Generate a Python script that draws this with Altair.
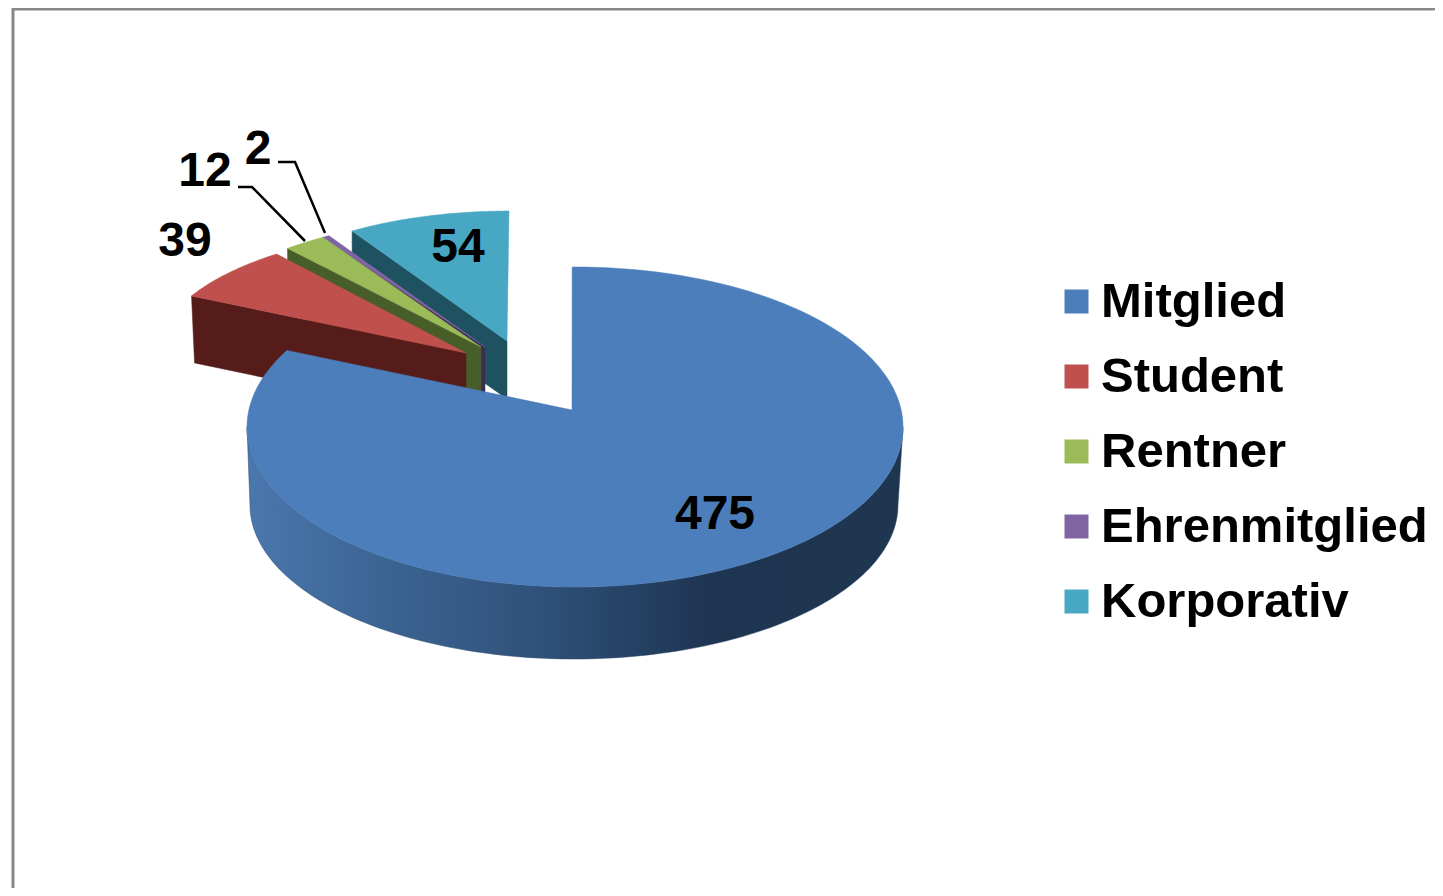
import numpy as np
import pandas as pd
import altair as alt

categories = ["Mitglied", "Student", "Rentner", "Ehrenmitglied", "Korporativ"]
values = [475, 39, 12, 2, 54]
top_colors = ["#4c7ebb", "#c0504d", "#9bbb59", "#8064a2", "#48a8c4"]
wall_colors = [None, "#551c19", "#485e29", "#3b2c55", "#1f5260"]

W, H = 1427, 880
FONT = "Liberation Sans"
xs = alt.Scale(domain=[8, 8 + W], range=[0, W])
ys = alt.Scale(domain=[8, 8 + H], range=[0, H])

total = sum(values)
ends = np.cumsum(values) / total * 360.0
starts = np.concatenate([[0.0], ends[:-1]])

# ellipse geometry of each exploded slice (perspective view of the pie)
geom = {
    "Mitglied": dict(cx=575, cy=427, rx=328, ry=160, ax=572, ay=410, k=1.018, p0=-0.5),
    "Student": dict(cx=509, cy=346, rx=347, ry=124, ax=466, ay=353, k=1, p0=0),
    "Rentner": dict(cx=520, cy=350, rx=347, ry=137, ax=481, ay=347, k=1, p0=0),
    "Ehrenmitglied": dict(cx=520, cy=350, rx=347, ry=137, ax=485, ay=347, k=1, p0=0),
    "Korporativ": dict(cx=509, cy=332, rx=285, ry=121, ax=507, ay=341, k=1, p0=0),
}
wall_depth = {"Student": 67, "Rentner": 62, "Ehrenmitglied": 60, "Korporativ": 58}
wall_shift = {"Student": 3, "Rentner": 0, "Ehrenmitglied": 0, "Korporativ": 0}


def rim(g, a, b, n=60):
    t = np.radians(g["p0"] + np.linspace(a, b, n) * g["k"])
    return g["cx"] + g["rx"] * np.sin(t), g["cy"] - g["ry"] * np.cos(t)


def poly(x, y, **kw):
    frame = pd.DataFrame({"x": x, "y": y})
    frame["o"] = np.arange(len(frame))
    # closed outline
    frame = pd.concat([frame, frame.iloc[[0]].assign(o=len(frame))])
    return (
        alt.Chart(frame)
        .mark_line(interpolate="linear", strokeWidth=0.5, **kw)
        .encode(
            x=alt.X("x:Q", scale=xs, axis=None),
            y=alt.Y("y:Q", scale=ys, axis=None),
            order="o:Q",
        )
    )


layers = []

# hidden carrier of the legend, underneath the big slice
legend_df = pd.DataFrame({"cat": categories, "x": [572] * 5, "y": [430] * 5})
legend_layer = (
    alt.Chart(legend_df)
    .mark_point(filled=True, size=1)
    .encode(
        x=alt.X("x:Q", scale=xs, axis=None),
        y=alt.Y("y:Q", scale=ys, axis=None),
        color=alt.Color(
            "cat:N",
            scale=alt.Scale(domain=categories, range=top_colors),
            sort=categories,
            legend=alt.Legend(
                title=None,
                orient="none",
                legendX=1052 - 8,
                legendY=277 - 8,
                symbolType="square",
                symbolSize=576,
                symbolOpacity=1,
                symbolStrokeWidth=0,
                labelFont=FONT,
                labelFontSize=49,
                labelFontWeight="bold",
                labelColor="black",
                labelLimit=500,
                labelOffset=0,
                rowPadding=25,
            ),
        ),
    )
)
layers.append(legend_layer)

# far slices, back to front
for name in ["Korporativ", "Ehrenmitglied", "Rentner", "Student"]:
    i = categories.index(name)
    g = geom[name]
    d = wall_depth[name]
    s = wall_shift[name]
    px, py = rim(g, starts[i], ends[i])
    # wall along the start edge of the slice
    wall_x = [px[0], g["ax"], g["ax"], px[0] + s]
    wall_y = [py[0], g["ay"], g["ay"] + d, py[0] + d]
    layers.append(poly(wall_x, wall_y, fill=wall_colors[i], stroke=wall_colors[i]))
    layers.append(
        poly(
            np.concatenate([[g["ax"]], px]),
            np.concatenate([[g["ay"]], py]),
            fill=top_colors[i],
            stroke=top_colors[i],
        )
    )

# big slice: outer wall with gradient, then top face
g = geom["Mitglied"]
phi = np.radians(np.linspace(90, 270, 120))
tx, ty = g["cx"] + g["rx"] * np.sin(phi), g["cy"] - g["ry"] * np.cos(phi)
bx, by = 574 + 324 * np.sin(phi), 505 - 154 * np.cos(phi)
shade = alt.Gradient(
    gradient="linear",
    x1=0, x2=1, y1=0, y2=0,
    stops=[
        alt.GradientStop(color="#4a77ad", offset=0),
        alt.GradientStop(color="#3c6594", offset=0.2),
        alt.GradientStop(color="#2f5179", offset=0.45),
        alt.GradientStop(color="#1e3552", offset=0.7),
        alt.GradientStop(color="#1f3650", offset=1),
    ],
)
layers.append(
    poly(
        np.concatenate([tx, bx[::-1]]),
        np.concatenate([ty, by[::-1]]),
        fill=shade,
        stroke="#2a4668",
    )
)
px, py = rim(g, starts[0], ends[0], 240)
layers.append(
    poly(
        np.concatenate([[g["ax"]], px]),
        np.concatenate([[g["ay"]], py]),
        fill=top_colors[0],
        stroke=top_colors[0],
    )
)

# leader lines
for lx, ly in [([238, 252, 305], [187, 187, 241]), ([278, 295, 325], [162, 162, 233])]:
    ldf = pd.DataFrame({"x": lx, "y": ly, "o": range(3)})
    layers.append(
        alt.Chart(ldf)
        .mark_line(color="black", strokeWidth=2.5)
        .encode(
            x=alt.X("x:Q", scale=xs, axis=None),
            y=alt.Y("y:Q", scale=ys, axis=None),
            order="o:Q",
        )
    )

# value labels
label_df = pd.DataFrame(
    {
        "v": [str(v) for v in values],
        "x": [715, 185, 205, 258, 458],
        "y": [515, 242, 172, 150, 248],
    }
)
layers.append(
    alt.Chart(label_df)
    .mark_text(font=FONT, fontSize=48, fontWeight="bold", color="black", baseline="middle", align="center")
    .encode(
        x=alt.X("x:Q", scale=xs, axis=None),
        y=alt.Y("y:Q", scale=ys, axis=None),
        text="v:N",
    )
)

# outer frame
frame_df = pd.DataFrame({"x": [8 + W, 13, 13], "y": [9, 9, 8 + H], "o": range(3)})
layers.append(
    alt.Chart(frame_df)
    .mark_line(color="#888888", strokeWidth=3)
    .encode(
        x=alt.X("x:Q", scale=xs, axis=None),
        y=alt.Y("y:Q", scale=ys, axis=None),
        order="o:Q",
    )
)

chart = (
    alt.layer(*layers)
    .properties(width=W, height=H, padding=0, background="white", autosize=alt.AutoSizeParams(type="none"))
    .configure_view(stroke=None)
)
chart.save("out.html", embed_options={"renderer": "svg", "actions": False})
